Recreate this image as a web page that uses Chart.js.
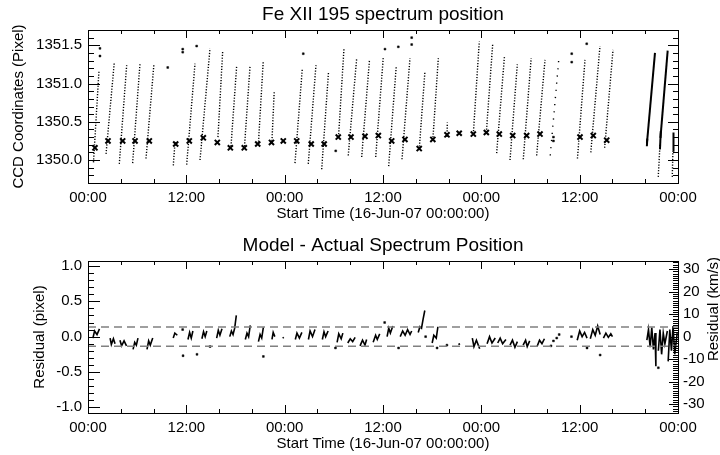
<!DOCTYPE html>
<html>
<head>
<meta charset="utf-8">
<script src="https://cdn.jsdelivr.net/npm/chart.js@4.4.1/dist/chart.umd.min.js"></script>
<style>
  html, body { margin: 0; padding: 0; background: #fff; }
  canvas { display: block; }
</style>
</head>
<body>
<canvas id="pos" width="720" height="230"></canvas>
<canvas id="res" width="720" height="225"></canvas>
<script>
/* Fe XII 195 spectrum position + residual panel (IDL-style plot redone in Chart.js) */

// time axis (hours from 16-Jun-07 00:00)
const timeTicks = [0, 12, 24, 36, 48, 60, 72];
const timeLabels = ["00:00", "12:00", "00:00", "12:00", "00:00", "12:00", "00:00"];
const posTicks = [1350.0, 1350.5, 1351.0, 1351.5];
const resTicks = [-1.0, -0.5, 0.0, 0.5, 1.0];
const kmsTicks = [-30, -20, -10, 0, 10, 20, 30];

// top panel: dotted ramps [t0, v0, t1, v1] (hours, pixel)
const posRamps = [
  [0.67, 1349.97, 1.34, 1351.17], [2.20, 1350.08, 3.21, 1351.28], [3.82, 1349.95, 4.72, 1351.24],
  [5.45, 1349.96, 6.35, 1351.27], [7.08, 1350.02, 8.05, 1351.26], [10.41, 1349.93, 10.62, 1350.24],
  [12.04, 1349.94, 13.06, 1351.26], [13.67, 1350.00, 14.89, 1351.46], [15.86, 1350.30, 16.44, 1351.43],
  [17.45, 1350.18, 18.15, 1351.24], [19.10, 1350.18, 19.77, 1351.22], [20.81, 1350.24, 21.39, 1351.30],
  [22.45, 1350.25, 22.73, 1350.91], [25.26, 1349.96, 26.15, 1351.19], [26.88, 1349.95, 27.82, 1351.24],
  [28.52, 1349.88, 29.35, 1351.15], [30.57, 1350.30, 31.24, 1351.46], [31.76, 1350.06, 32.79, 1351.33],
  [33.40, 1350.04, 34.35, 1351.31], [35.11, 1350.04, 36.04, 1351.35], [36.69, 1349.92, 37.62, 1351.23],
  [38.32, 1350.01, 39.29, 1351.33], [40.42, 1350.14, 41.12, 1351.16], [42.08, 1350.26, 42.75, 1351.33],
  [43.81, 1350.30, 43.85, 1350.49], [47.02, 1350.34, 47.75, 1351.55], [48.61, 1350.36, 49.39, 1351.52],
  [49.87, 1350.09, 50.82, 1351.35], [51.50, 1350.00, 52.39, 1351.25], [53.12, 1350.01, 54.08, 1351.33],
  [54.75, 1350.06, 55.77, 1351.31], [59.73, 1350.02, 60.65, 1351.31], [61.36, 1350.10, 62.48, 1351.49],
  [63.05, 1350.16, 64.07, 1351.44], [69.59, 1349.78, 69.80, 1350.20], [71.30, 1349.78, 71.38, 1350.12]
];
const posSparse = [[56.41, 1350.06, 57.48, 1351.35]];
const posDense = [
  [68.21, 1350.22, 69.19, 1351.40], [69.86, 1350.29, 70.74, 1351.43],
  [69.80, 1350.14, 69.90, 1350.38], [71.40, 1350.12, 71.45, 1350.36], [68.20, 1350.18, 68.25, 1350.28]
];
const posClusters = [
  [0.85, 1350.16], [2.44, 1350.25], [4.23, 1350.25], [5.74, 1350.25], [7.48, 1350.25], [10.70, 1350.21],
  [12.36, 1350.25], [14.07, 1350.29], [15.78, 1350.23], [17.37, 1350.16], [19.07, 1350.16], [20.71, 1350.21],
  [22.39, 1350.23], [23.83, 1350.25], [25.47, 1350.25], [27.24, 1350.21], [28.82, 1350.21], [30.54, 1350.30],
  [32.09, 1350.30], [33.80, 1350.31], [35.43, 1350.32], [37.06, 1350.25], [38.68, 1350.27], [40.42, 1350.15],
  [42.08, 1350.27], [43.81, 1350.33], [45.30, 1350.35], [47.02, 1350.34], [48.61, 1350.36], [50.19, 1350.34],
  [51.83, 1350.32], [53.53, 1350.32], [55.16, 1350.34], [60.04, 1350.30], [61.66, 1350.32], [63.30, 1350.26]
];
const posDots = [
  [1.46, 1351.46], [1.46, 1351.36], [9.73, 1351.21], [11.56, 1351.41], [11.56, 1351.45], [13.26, 1351.49],
  [26.27, 1351.39], [30.23, 1350.12], [36.24, 1351.45], [37.87, 1351.48], [39.50, 1351.60], [39.50, 1351.51],
  [59.03, 1351.39], [59.03, 1351.28], [60.86, 1351.52], [56.80, 1350.25], [56.80, 1350.30]
];

// bottom panel: residual scribbles (hours, pixel) and stray points
const resBlobs = [
  [[0.6, -0.02], [0.8, 0.08], [1.1, 0.03], [1.4, 0.11]],
  [[2.7, -0.02], [2.85, -0.11], [3.1, -0.03], [3.3, -0.10]],
  [[3.9, -0.05], [4.1, -0.13], [4.4, -0.06], [4.7, -0.13]],
  [[5.5, -0.18], [5.7, -0.08], [5.9, -0.12], [6.1, -0.02]],
  [[7.2, -0.18], [7.4, -0.06], [7.6, -0.12], [7.9, -0.02]],
  [[10.4, -0.02], [10.6, 0.05], [10.9, 0.02]],
  [[12.2, -0.04], [12.4, 0.06], [12.6, -0.02], [12.8, 0.08]],
  [[13.9, -0.03], [14.1, 0.07], [14.3, 0.00], [14.5, 0.08]],
  [[15.7, -0.02], [15.9, 0.09], [16.1, 0.02], [16.35, 0.11]],
  [[17.3, 0.00], [17.5, 0.08], [17.7, 0.03], [17.9, 0.12], [18.1, 0.30]],
  [[19.2, -0.04], [19.4, 0.05], [19.6, 0.00], [19.8, 0.16]],
  [[20.8, -0.07], [21.0, 0.03], [21.2, -0.02], [21.4, 0.13]],
  [[22.45, -0.04], [22.6, 0.06], [22.8, 0.00]],
  [[23.75, -0.02], [23.9, -0.01]],
  [[25.3, -0.04], [25.5, 0.05], [25.8, -0.02], [26.1, 0.06]],
  [[26.9, -0.04], [27.1, 0.08], [27.4, 0.00], [27.7, 0.10]],
  [[28.6, -0.04], [28.8, 0.07], [29.0, 0.00], [29.3, 0.08]],
  [[30.4, -0.08], [30.6, 0.04], [30.9, -0.03], [31.1, 0.05]],
  [[31.7, -0.09], [32.0, -0.03], [32.3, -0.07], [32.6, -0.01]],
  [[33.2, -0.13], [33.5, -0.05], [33.8, -0.12], [34.0, -0.04]],
  [[34.8, -0.08], [35.1, 0.02], [35.3, -0.04], [35.6, 0.04]],
  [[36.5, 0.00], [36.7, 0.12], [36.9, 0.05], [37.2, 0.15]],
  [[38.1, 0.00], [38.4, 0.08], [38.7, 0.02], [39.0, 0.10], [39.3, 0.03], [39.5, 0.08]],
  [[40.3, 0.06], [40.5, 0.14], [40.7, 0.12], [40.9, 0.25], [41.1, 0.37]],
  [[42.0, -0.09], [42.2, 0.02], [42.5, -0.02], [42.7, 0.14]],
  [[45.2, -0.11], [45.4, -0.10]],
  [[46.9, -0.02], [47.1, -0.14], [47.4, -0.05], [47.8, -0.17]],
  [[48.7, -0.10], [49.0, 0.00], [49.3, -0.09], [49.7, -0.02]],
  [[50.0, -0.09], [50.3, -0.02], [50.6, -0.10], [51.0, -0.04]],
  [[51.5, -0.12], [51.8, -0.05], [52.1, -0.15], [52.4, -0.07]],
  [[53.1, -0.12], [53.4, -0.05], [53.6, -0.14], [53.9, -0.06]],
  [[54.8, -0.14], [55.1, -0.05], [55.4, -0.10], [55.7, -0.03]],
  [[59.7, -0.05], [60.0, 0.08], [60.3, 0.00], [60.6, 0.06], [60.9, -0.02]],
  [[61.3, -0.03], [61.6, 0.10], [61.9, 0.02], [62.2, 0.15], [62.5, 0.03]],
  [[62.9, -0.02], [63.2, 0.05], [63.5, -0.01], [63.8, 0.04], [64.0, 0.00]],
  [[68.2, -0.05], [68.4, 0.10], [68.6, -0.15], [68.8, 0.13], [69.0, -0.18], [69.2, 0.05], [69.3, -0.42]],
  [[69.6, -0.20], [69.8, 0.10], [70.0, -0.25], [70.2, 0.05], [70.4, -0.10], [70.7, 0.08]],
  [[70.8, -0.35], [71.0, 0.10], [71.2, -0.20], [71.4, 0.15], [71.6, -0.25], [71.9, 0.05]]
];
const resDots = [
  [11.55, 0.10], [11.6, -0.27], [13.3, -0.25], [14.9, -0.14], [21.4, -0.28], [30.2, -0.16],
  [36.2, 0.20], [37.9, -0.16], [41.2, 0.00], [42.6, -0.16], [43.8, -0.12], [56.5, -0.13],
  [56.8, -0.06], [57.2, -0.02], [57.5, 0.03], [59.0, 0.00], [60.9, -0.16], [62.5, -0.26], [69.6, -0.44]
];
const resBand = 0.135;      // dashed limits, pixel
const KMS = 31.4;           // km/s per pixel for the right axis

const ink = "#000";
const FONT = "'Liberation Sans', Arial, Helvetica, sans-serif";
const f15 = { family: FONT, size: 15, weight: "normal" };
const f19 = { family: FONT, size: 19, weight: "normal", lineHeight: 1 };
const pt = a => ({ x: a[0], y: a[1] });
const seg = (r, dash, w) => ({
  data: [{ x: r[0], y: r[1] }, { x: r[2], y: r[3] }],
  showLine: true, borderColor: ink, borderWidth: w, borderDash: dash, pointRadius: 0,
});
const setTicks = arr => s => { s.ticks = arr.map(v => ({ value: v })); };

// IDL-like frame: box plus inward ticks on every side (ticks as 1px filled bars)
function drawFrame(chart, cfg) {
  const ctx = chart.ctx, a = chart.chartArea, sx = chart.scales.x, sy = chart.scales.y;
  const L = Math.round(a.left), R = Math.round(a.right);
  const T = Math.round(a.top), B = Math.round(a.bottom);
  ctx.save();
  ctx.setLineDash([]);
  ctx.globalAlpha = 1;
  ctx.fillStyle = ink;
  ctx.fillRect(L, T, R - L + 1, 1);
  ctx.fillRect(L, B, R - L + 1, 1);
  ctx.fillRect(L, T, 1, B - T + 1);
  ctx.fillRect(R, T, 1, B - T + 1);
  for (let h = 0; h <= 72; h += 4) {
    const px = Math.round(sx.getPixelForValue(h));
    const len = h % 12 === 0 ? 8 : 4;
    ctx.fillRect(px, B - len, 1, len);
    ctx.fillRect(px, T, 1, len);
  }
  const side = (sc, step, every, big, small, right) => {
    const k0 = Math.ceil(sc.min / step - 1e-6), k1 = Math.floor(sc.max / step + 1e-6);
    for (let k = k0; k <= k1; k++) {
      const py = Math.round(sc.getPixelForValue(k * step));
      const len = Math.abs(k % every) === 0 ? big : small;
      if (right) ctx.fillRect(R - len, py, len, 1);
      else ctx.fillRect(L, py, len, 1);
    }
  };
  side(sy, cfg.step, cfg.every, 12, 6, false);
  if (cfg.right) side(chart.scales[cfg.right.id], cfg.right.step, cfg.right.every, 9, 5, true);
  else side(sy, cfg.step, cfg.every, 10, 5, true);
  if (cfg.rightTitle) {
    // reads bottom-to-top like the left title, a little above the plot middle
    ctx.translate(714, (a.top + a.bottom) / 2 - 28);
    ctx.rotate(-Math.PI / 2);
    ctx.font = "15px " + FONT;
    ctx.textAlign = "center";
    ctx.textBaseline = "middle";
    ctx.fillText(cfg.rightTitle, 0, 0);
  }
  ctx.restore();
}
const frame = cfg => ({ id: "idlframe", afterDraw: chart => drawFrame(chart, cfg) });

const xScale = (h, pb) => ({
  type: "linear", min: 0, max: 72,
  afterBuildTicks: setTicks(timeTicks),
  ticks: { callback: v => timeLabels[timeTicks.indexOf(v)], font: f15, color: ink, padding: 6, maxRotation: 0, autoSkip: false },
  grid: { display: false, drawTicks: false }, border: { display: false },
  title: { display: true, text: "Start Time (16-Jun-07 00:00:00)", font: f15, color: ink, padding: { top: 0, bottom: pb } },
  afterFit: s => { s.height = h; },
});
const base = { responsive: false, animation: false, devicePixelRatio: 1, events: [] };

/* ---- top: CCD position ---- */
new Chart(document.getElementById("pos"), {
  type: "scatter",
  data: {
    datasets: [
      ...posRamps.map(r => seg(r, [1.2, 1.6], 1.4)),
      ...posSparse.map(r => seg(r, [1.2, 6], 1.4)),
      ...posDense.map(r => seg(r, [], 2)),
      { data: posClusters.map(pt), pointStyle: "crossRot", pointRadius: 3.6, borderColor: ink, borderWidth: 2 },
      { data: posDots.map(pt), pointStyle: "rect", pointRadius: 1.3, backgroundColor: ink, borderColor: ink, borderWidth: 0.5 },
    ],
  },
  options: {
    ...base,
    layout: { padding: { left: 0, right: 42, top: 0, bottom: 0 } },
    plugins: {
      legend: { display: false }, tooltip: { enabled: false },
      title: { display: true, fullSize: false, text: "Fe XII 195 spectrum position", font: f19, color: ink, padding: { top: 5, bottom: 6 } },
    },
    scales: {
      x: xScale(47, 7),
      y: {
        min: 1349.7, max: 1351.7,
        afterBuildTicks: setTicks(posTicks),
        ticks: { callback: v => v.toFixed(1), font: f15, color: ink, padding: 6 },
        grid: { display: false, drawTicks: false }, border: { display: false },
        title: { display: true, text: "CCD Coordinates (Pixel)", font: f15, color: ink, padding: { top: 10, bottom: 0 } },
        afterFit: s => { s.width = 88; },
      },
    },
  },
  plugins: [frame({ step: 0.1, every: 5 })],
});

/* ---- bottom: model - actual ---- */
const yMin = -1.08, yMax = 1.07;
new Chart(document.getElementById("res"), {
  type: "scatter",
  data: {
    datasets: [
      { data: [{ x: 0, y: resBand }, { x: 72, y: resBand }], showLine: true, borderColor: "#808080", borderWidth: 1.5, borderDash: [8, 5], pointRadius: 0 },
      { data: [{ x: 0, y: -resBand }, { x: 72, y: -resBand }], showLine: true, borderColor: "#808080", borderWidth: 1.5, borderDash: [8, 5], pointRadius: 0 },
      ...resBlobs.map(b => ({ data: b.map(pt), showLine: true, borderColor: ink, borderWidth: 1.6, pointRadius: 0 })),
      { data: resDots.map(pt), pointStyle: "rect", pointRadius: 1.3, backgroundColor: ink, borderColor: ink, borderWidth: 0.5 },
    ],
  },
  options: {
    ...base,
    layout: { padding: 0 },
    plugins: {
      legend: { display: false }, tooltip: { enabled: false },
      title: { display: true, fullSize: false, text: "Model - Actual Spectrum Position", font: f19, color: ink, padding: { top: 6, bottom: 6 } },
    },
    scales: {
      x: xScale(42, 2),
      y: {
        min: yMin, max: yMax,
        afterBuildTicks: setTicks(resTicks),
        ticks: { callback: v => v.toFixed(1), font: f15, color: ink, padding: 6 },
        grid: { display: false, drawTicks: false }, border: { display: false },
        title: { display: true, text: "Residual (pixel)", font: f15, color: ink, padding: { top: 31, bottom: 0 } },
        afterFit: s => { s.width = 88; },
      },
      y2: {
        position: "right", min: yMin * KMS, max: yMax * KMS,
        afterBuildTicks: setTicks(kmsTicks),
        ticks: { callback: v => String(v), font: f15, color: ink, padding: 5 },
        grid: { display: false, drawTicks: false }, border: { display: false },
        afterFit: s => { s.width = 42; },
      },
    },
  },
  plugins: [frame({ step: 0.1, every: 5, right: { id: "y2", step: 1, every: 10 }, rightTitle: "Residual (km/s)" })],
});
</script>
</body>
</html>
